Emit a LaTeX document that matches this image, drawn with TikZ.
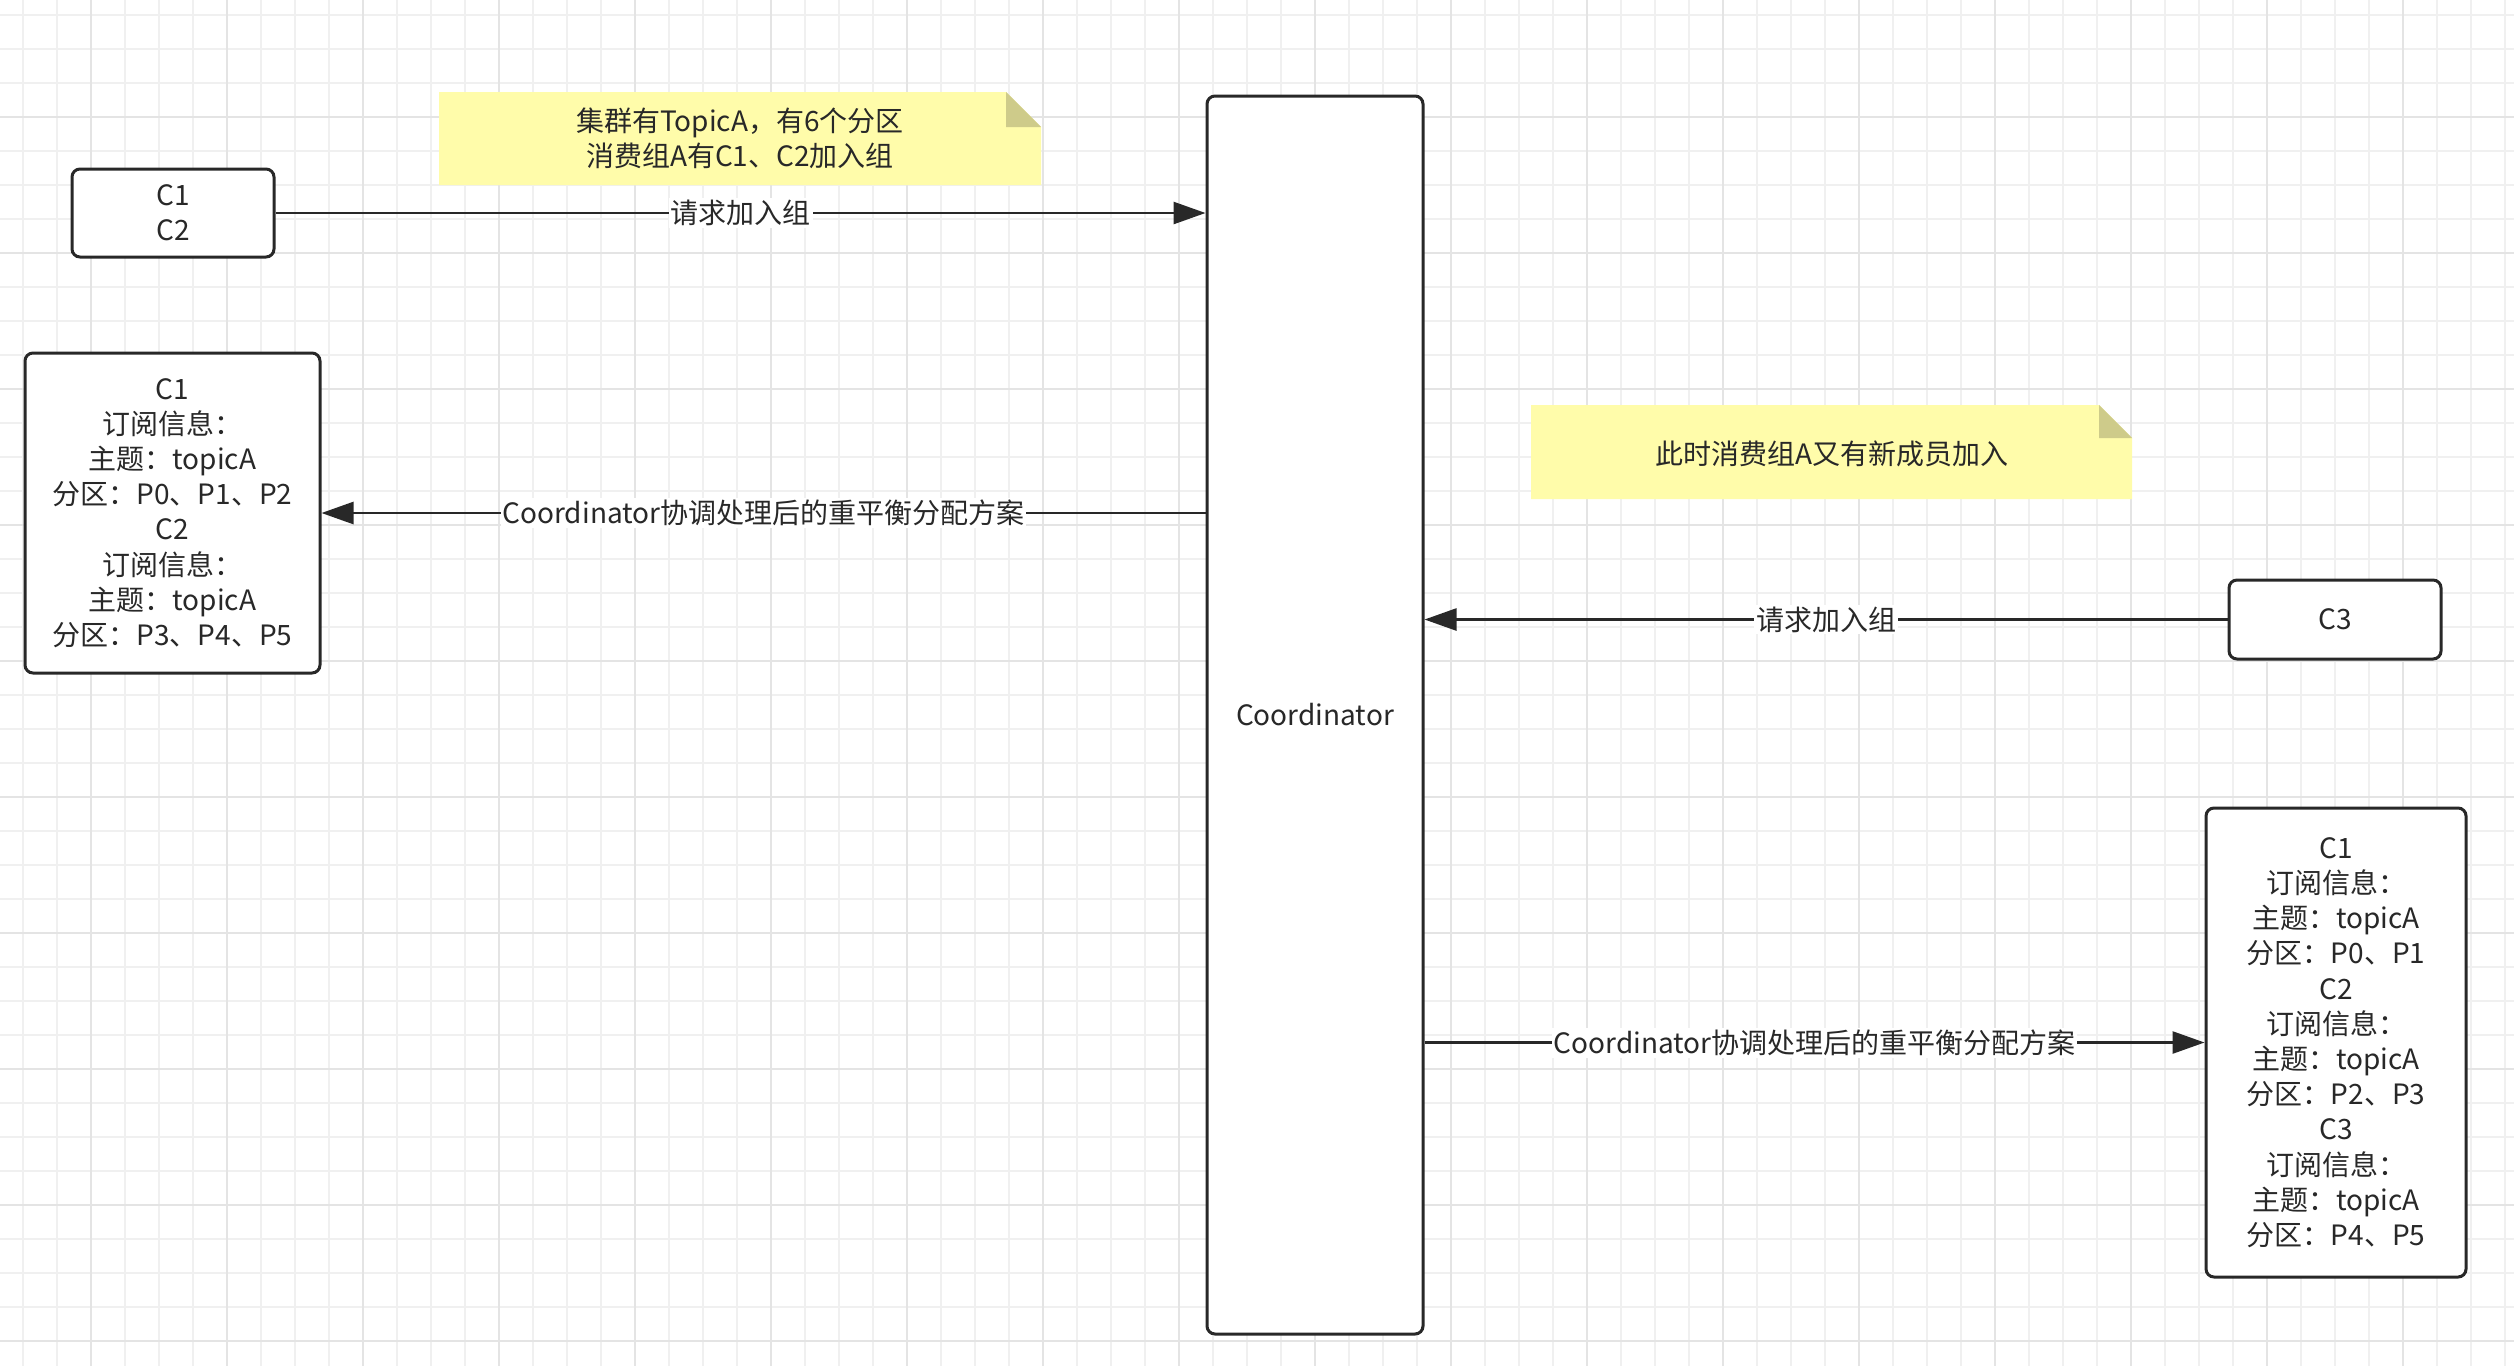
\documentclass[tikz,border=0pt]{standalone}
\usepackage{fontspec}
\setmainfont{Noto Sans CJK SC}
\usetikzlibrary{arrows.meta}
\definecolor{ink}{RGB}{40,40,40}
\definecolor{notefill}{RGB}{255,252,170}
\definecolor{notefold}{RGB}{206,203,138}
\definecolor{gridminor}{RGB}{240,240,240}
\definecolor{gridmajor}{RGB}{228,228,228}
\begin{document}
\begin{tikzpicture}[x=0.5pt,y=-0.5pt,
  every node/.style={font=\fontsize{14pt}{17.6pt}\selectfont, text=ink, inner sep=0pt},
  box/.style={draw=ink, line width=1.5pt, rounded corners=4pt, fill=white, align=center},
  notetext/.style={align=center},
  conn/.style={draw=ink, line width=1.3pt, -{Triangle[length=16pt,width=11pt]}},
  lbl/.style={fill=white, inner sep=1pt},
  gminor/.style={draw=gridminor, line width=0.6pt},
  gmajor/.style={draw=gridmajor, line width=1pt}
]
\useasboundingbox (0,0) rectangle (2514,1366);
\fill[white] (0,0) rectangle (2514,1366);
% grid
\foreach \x in {23,57,...,2514} \draw[gminor] (\x,0) -- (\x,1366);
\foreach \y in {15,49,...,1366} \draw[gminor] (0,\y) -- (2514,\y);
\foreach \x in {91,227,...,2514} \draw[gmajor] (\x,0) -- (\x,1366);
\foreach \y in {117,253,...,1366} \draw[gmajor] (0,\y) -- (2514,\y);

% notes
\fill[notefill] (439,92) -- (1006,92) -- (1041,127) -- (1041,185) -- (439,185) -- cycle;
\fill[notefold] (1006,92) -- (1006,127) -- (1041,127) -- cycle;
\node[notetext] (note1) at (740,138) {集群有TopicA，有6个分区\\消费组A有C1、C2加入组};

\fill[notefill] (1531,405) -- (2099,405) -- (2132,438) -- (2132,499) -- (1531,499) -- cycle;
\fill[notefold] (2099,405) -- (2099,438) -- (2132,438) -- cycle;
\node[notetext] (note2) at (1832,454) {此时消费组A又有新成员加入};

% boxes
\node[box, minimum width=101pt, minimum height=44pt] (c12) at (173,213) {C1\\C2};
\node[box, minimum width=108pt, minimum height=619pt] (coord) at (1315,715) {Coordinator};
\node[box, minimum width=147.5pt, minimum height=160pt] (left) at (172.5,513)
  {C1\\订阅信息：\\主题：topicA\\分区：P0、P1、P2\\C2\\订阅信息：\\主题：topicA\\分区：P3、P4、P5};
\node[box, minimum width=106pt, minimum height=39.5pt] (c3) at (2335,619.5) {C3};
\node[box, minimum width=130pt, minimum height=234.5pt] (right) at (2336,1042.5)
  {C1\\订阅信息：\\主题：topicA\\分区：P0、P1\\C2\\订阅信息：\\主题：topicA\\分区：P2、P3\\C3\\订阅信息：\\主题：topicA\\分区：P4、P5};

% connectors
\draw[conn] (c12.east) -- node[lbl]{请求加入组} (c12.east -| coord.west);
\draw[conn] (left.east -| coord.west) -- node[lbl]{Coordinator协调处理后的重平衡分配方案} (left.east);
\draw[conn] (c3.west) -- node[lbl]{请求加入组} (c3.west -| coord.east);
\draw[conn] (right.west -| coord.east) -- node[lbl]{Coordinator协调处理后的重平衡分配方案} (right.west);
\end{tikzpicture}
\end{document}
